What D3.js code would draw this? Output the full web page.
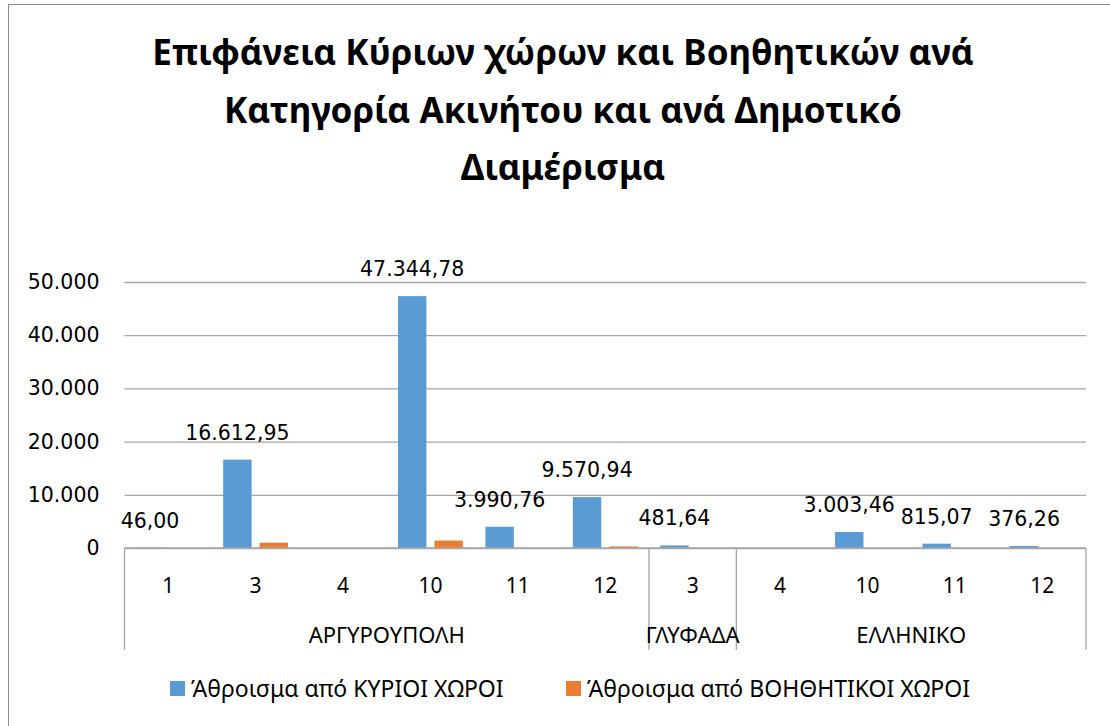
<!DOCTYPE html>
<html>
<head>
<meta charset="utf-8">
<script src="https://cdn.jsdelivr.net/npm/d3@7"></script>
<style>
  body { margin: 0; background: #fff; }
  text { font-family: "Noto Sans", "Open Sans", sans-serif; fill: #000; }
</style>
</head>
<body>
<div id="chart"></div>
<script>
var svgWidth = 1110;
var svgHeight = 726;

// data
var categories = ["1", "3", "4", "10", "11", "12", "3", "4", "10", "11", "12"];
var areas = ["ΑΡΓΥΡΟΥΠΟΛΗ", "ΑΡΓΥΡΟΥΠΟΛΗ", "ΑΡΓΥΡΟΥΠΟΛΗ", "ΑΡΓΥΡΟΥΠΟΛΗ", "ΑΡΓΥΡΟΥΠΟΛΗ", "ΑΡΓΥΡΟΥΠΟΛΗ",
  "ΓΛΥΦΑΔΑ", "ΕΛΛΗΝΙΚΟ", "ΕΛΛΗΝΙΚΟ", "ΕΛΛΗΝΙΚΟ", "ΕΛΛΗΝΙΚΟ"];
var kyrioi = [46.00, 16612.95, null, 47344.78, 3990.76, 9570.94, 481.64, null, 3003.46, 815.07, 376.26];
var voithitikoi = [null, 1000, null, 1400, null, 300, null, null, null, null, null];
var seriesNames = ["Άθροισμα από ΚΥΡΙΟΙ ΧΩΡΟΙ", "Άθροισμα από ΒΟΗΘΗΤΙΚΟΙ ΧΩΡΟΙ"];
var seriesColors = ["#5B9BD5", "#ED7D31"];
var yTicks = [0, 10000, 20000, 30000, 40000, 50000];
var titleLines = ["Επιφάνεια Κύριων χώρων και Βοηθητικών ανά",
  "Κατηγορία Ακινήτου και ανά Δημοτικό", "Διαμέρισμα"];

var grLocale = d3.formatLocale({decimal: ",", thousands: ".", grouping: [3], currency: ["", "€"]});
var fmtLabel = grLocale.format(",.2f");
var fmtTick = grLocale.format(",.0f");

var plot = {left: 124.5, right: 1086, top: 282, bottom: 548, axisBottom: 650};

var svg = d3.select("#chart")
  .append("svg")
  .attr("width", svgWidth)
  .attr("height", svgHeight);

// chart border
svg.append("rect")
  .attr("x", 8.5).attr("y", 4.5)
  .attr("width", 1120).attr("height", 740)
  .attr("fill", "none")
  .attr("stroke", "#8c8c8c");

// title
svg.append("g").selectAll("text")
  .data(titleLines)
  .enter()
  .append("text")
  .attr("x", 563)
  .attr("y", (d, i) => 65 + i * 57.5)
  .attr("text-anchor", "middle")
  .style("font-size", "35px")
  .style("font-weight", "bold")
  .text(d => d);

var keys = categories.map((c, i) => i);

var x0 = d3.scaleBand()
  .domain(keys)
  .range([plot.left, plot.right])
  .padding(0);

var x1 = d3.scaleBand()
  .domain([0, 1])
  .range([0, x0.bandwidth()])
  .paddingInner(0.22)
  .paddingOuter(0.31);

var y = d3.scaleLinear()
  .domain([0, 50000])
  .range([plot.bottom, plot.top]);

// gridlines
var leftAxis = d3.axisLeft(y)
  .tickValues(yTicks)
  .tickSize(-(plot.right - plot.left))
  .tickPadding(25)
  .tickFormat(fmtTick);

var yAxis = svg.append("g")
  .attr("transform", `translate(${plot.left}, 0)`)
  .call(leftAxis);
yAxis.select(".domain").remove();
yAxis.selectAll("line").attr("stroke", "#a6a6a6").attr("stroke-width", 1.3);
yAxis.selectAll("text")
  .style("font-size", "20.5px")
  .style("font-family", "'DejaVu Sans', sans-serif")
  .attr("fill", "#000");

// bars
var series = [kyrioi, voithitikoi];
series.forEach(function(vals, s) {
  svg.append("g").selectAll("rect")
    .data(keys.filter(k => vals[k] != null))
    .enter()
    .append("rect")
    .attr("x", k => x0(k) + x1(s))
    .attr("width", x1.bandwidth())
    .attr("y", k => y(vals[k]))
    .attr("height", k => y(0) - y(vals[k]))
    .attr("fill", seriesColors[s]);
});

// value labels on the main series
svg.append("g").selectAll("text")
  .data(keys.filter(k => kyrioi[k] != null))
  .enter()
  .append("text")
  .attr("x", k => x0(k) + x1(0) + x1.bandwidth() / 2)
  .attr("y", k => y(kyrioi[k]) - 20)
  .attr("text-anchor", "middle")
  .style("font-size", "20.5px")
  .style("font-family", "'DejaVu Sans', sans-serif")
  .text(k => fmtLabel(kyrioi[k]));

// category axis box
var axisG = svg.append("g");
axisG.append("line")
  .attr("x1", plot.left).attr("x2", plot.right)
  .attr("y1", plot.bottom).attr("y2", plot.bottom)
  .attr("stroke", "#a6a6a6").attr("stroke-width", 1.3);

var areaNames = Array.from(new Set(areas));
var areaSpans = areaNames.map(function(a) {
  var idx = keys.filter(k => areas[k] === a);
  return {name: a, start: x0(idx[0]), end: x0(idx[idx.length - 1]) + x0.bandwidth()};
});

var edges = [plot.left].concat(areaSpans.map(d => d.end));
axisG.selectAll(".sep")
  .data(edges)
  .enter()
  .append("line")
  .attr("x1", d => d).attr("x2", d => d)
  .attr("y1", plot.bottom).attr("y2", plot.axisBottom)
  .attr("stroke", "#a6a6a6").attr("stroke-width", 1.3);

axisG.selectAll(".cat")
  .data(keys)
  .enter()
  .append("text")
  .attr("x", k => x0(k) + x0.bandwidth() / 2)
  .attr("y", 593)
  .attr("text-anchor", "middle")
  .style("font-size", "21px")
  .text(k => categories[k]);

axisG.selectAll(".area")
  .data(areaSpans)
  .enter()
  .append("text")
  .attr("x", d => (d.start + d.end) / 2)
  .attr("y", 643)
  .attr("text-anchor", "middle")
  .style("font-size", "22px")
  .text(d => d.name);

// legend
var legendX = [170, 566];
var legend = svg.append("g").selectAll("g")
  .data(seriesNames)
  .enter()
  .append("g")
  .attr("transform", (d, i) => `translate(${legendX[i]}, 681)`);
legend.append("rect")
  .attr("width", 15).attr("height", 15)
  .attr("fill", (d, i) => seriesColors[i]);
legend.append("text")
  .attr("x", 21).attr("y", 16)
  .style("font-size", "23px")
  .text(d => d);
</script>
</body>
</html>
